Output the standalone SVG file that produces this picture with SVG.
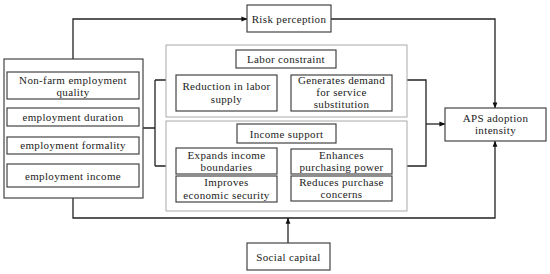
<svg xmlns="http://www.w3.org/2000/svg" width="550" height="274" viewBox="0 0 550 274">
<defs>
<marker id="ah" viewBox="0 0 8 8" refX="7.5" refY="4" markerWidth="6" markerHeight="6" orient="auto" markerUnits="userSpaceOnUse">
<path d="M0,0.8 L8,4 L0,7.2 Z" fill="#111"/>
</marker>
<style>
.box{fill:#fff;stroke:#444;stroke-width:1.2}
.frame{fill:#fff;stroke:#aaa;stroke-width:1}
.t{font-family:"Liberation Serif","Times New Roman",serif;font-size:11px;letter-spacing:0.35px;fill:#222;text-anchor:middle}
.c{fill:none;stroke:#222;stroke-width:1.3}
</style>
</defs>
<rect width="550" height="274" fill="#fff"/>
<g id="connectors">
<path class="c" d="M73,59 V19 H247" marker-end="url(#ah)"/>
<path class="c" d="M331,19 H495 V108" marker-end="url(#ah)"/>
<path class="c" d="M143,128 H155 M155,80 V166 M155,80 H166 M155,166 H166"/>
<path class="c" d="M407,80 H426 V166 H407"/>
<path class="c" d="M426,124 H445" marker-end="url(#ah)"/>
<path class="c" d="M73,198 V218 H495 V141" marker-end="url(#ah)"/>
<path class="c" d="M288,243 V218" marker-end="url(#ah)"/>
<path class="c" d="M277,93 H291" marker-end="url(#ah)"/>
<path class="c" d="M277,161 H291" marker-end="url(#ah)"/>
<path class="c" d="M277,189 H291" marker-end="url(#ah)"/>
</g>
<g id="employment-group">
<rect class="box" x="4" y="59" width="139" height="139"/>
</g>
<g id="nonfarm-quality">
<rect class="box" x="7" y="72" width="132" height="27"/>
<text class="t" x="73" y="83.5">Non-farm employment</text>
<text class="t" x="73" y="96">quality</text>
</g>
<g id="employment-duration">
<rect class="box" x="7" y="108" width="132" height="18"/>
<text class="t" x="73" y="120.5">employment duration</text>
</g>
<g id="employment-formality">
<rect class="box" x="7" y="137" width="132" height="17"/>
<text class="t" x="73" y="149">employment formality</text>
</g>
<g id="employment-income">
<rect class="box" x="7" y="164" width="132" height="23"/>
<text class="t" x="73" y="179.5">employment income</text>
</g>
<g id="risk-perception">
<rect class="box" x="247" y="5" width="84" height="27"/>
<text class="t" x="289" y="22.5">Risk perception</text>
</g>
<g id="labor-frame">
<rect class="frame" x="166" y="45" width="241" height="72"/>
</g>
<g id="income-frame">
<rect class="frame" x="166" y="121" width="241" height="90"/>
</g>
<g id="labor-constraint">
<rect class="box" x="236" y="50" width="100" height="18"/>
<text class="t" x="286" y="62.5">Labor constraint</text>
</g>
<g id="reduction-labor">
<rect class="box" x="176" y="75" width="101" height="36"/>
<text class="t" x="226.5" y="89.5">Reduction in labor</text>
<text class="t" x="226.5" y="102.5">supply</text>
</g>
<g id="generates-demand">
<rect class="box" x="291" y="75" width="101" height="36"/>
<text class="t" x="341.5" y="83.5">Generates demand</text>
<text class="t" x="341.5" y="95.8">for service</text>
<text class="t" x="341.5" y="108.1">substitution</text>
</g>
<g id="income-support">
<rect class="box" x="237" y="124" width="99" height="19"/>
<text class="t" x="286.5" y="137.5">Income support</text>
</g>
<g id="expands-income">
<rect class="box" x="176" y="148" width="101" height="26"/>
<text class="t" x="226.5" y="158.5">Expands income</text>
<text class="t" x="226.5" y="171">boundaries</text>
</g>
<g id="improves-security">
<rect class="box" x="176" y="176" width="101" height="26"/>
<text class="t" x="226.5" y="186">Improves</text>
<text class="t" x="226.5" y="198.5">economic security</text>
</g>
<g id="enhances-power">
<rect class="box" x="291" y="149" width="101" height="25"/>
<text class="t" x="341.5" y="158.5">Enhances</text>
<text class="t" x="341.5" y="171">purchasing power</text>
</g>
<g id="reduces-concerns">
<rect class="box" x="291" y="176" width="101" height="25"/>
<text class="t" x="341.5" y="185.5">Reduces purchase</text>
<text class="t" x="341.5" y="198">concerns</text>
</g>
<g id="aps-adoption">
<rect class="box" x="445" y="108" width="101" height="33"/>
<text class="t" x="495.5" y="121.5">APS adoption</text>
<text class="t" x="495.5" y="134">intensity</text>
</g>
<g id="social-capital">
<rect class="box" x="247" y="243" width="83" height="27"/>
<text class="t" x="288.5" y="260.5">Social capital</text>
</g>
</svg>
